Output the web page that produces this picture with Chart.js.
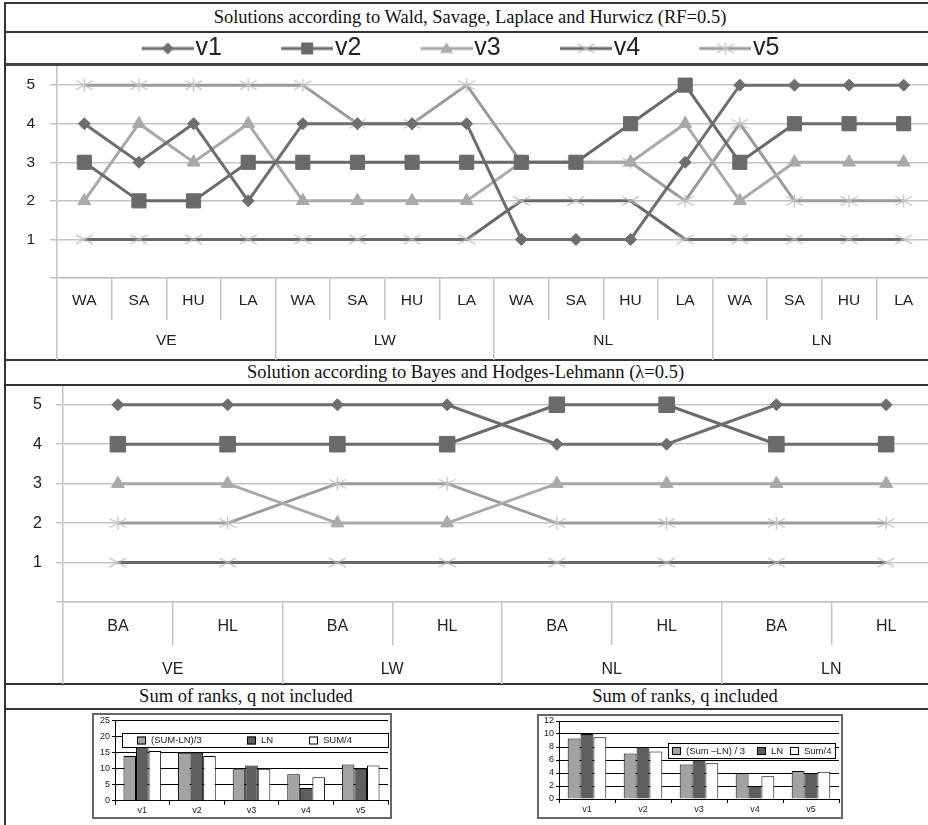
<!DOCTYPE html>
<html>
<head>
<meta charset="utf-8">
<script src="https://cdn.jsdelivr.net/npm/chart.js@4.4.0/dist/chart.umd.min.js"></script>
<style>
  body { margin: 0; width: 928px; height: 825px; overflow: hidden; position: relative; background: #fff; }
  .hl { position: absolute; left: 4px; width: 930px; height: 2px; background: #333; }
  .vl { position: absolute; top: 2px; width: 2px; height: 830px; background: #333; }
  .ttl { position: absolute; text-align: center; font: 18.5px 'Liberation Serif', 'Times New Roman', serif; color: #111; white-space: nowrap; }
  canvas { position: absolute; }
  .box { position: absolute; border: 2px solid #666; box-sizing: border-box; }
</style>
</head>
<body>
<!-- table frame -->
<div class="hl" style="top:2px"></div>
<div class="hl" style="top:31px"></div>
<div class="hl" style="top:63px;height:3px;background:#444"></div>
<div class="hl" style="top:359px"></div>
<div class="hl" style="top:384px"></div>
<div class="hl" style="top:683px"></div>
<div class="hl" style="top:708px"></div>
<div class="vl" style="left:4px"></div>

<div class="ttl" style="left:5px;width:930px;top:4px;line-height:27px">Solutions according to Wald, Savage, Laplace and Hurwicz (RF=0.5)</div>
<div class="ttl" style="left:5px;width:921px;top:361px;line-height:23px">Solution according to Bayes and Hodges-Lehmann (&lambda;=0.5)</div>
<div class="ttl" style="left:96px;width:300px;top:685px;line-height:23px">Sum of ranks, q not included</div>
<div class="ttl" style="left:535px;width:300px;top:685px;line-height:23px">Sum of ranks, q included</div>

<canvas id="top" width="1014" height="332" style="left:-72px;top:28px"></canvas>
<canvas id="bot" width="947" height="309" style="left:6px;top:375px"></canvas>

<div class="box" style="left:92px;top:713px;width:300px;height:106px"></div>
<div class="box" style="left:537px;top:714px;width:306px;height:105px"></div>
<canvas id="barA" width="300" height="110" style="left:92px;top:712px"></canvas>
<canvas id="barB" width="305" height="110" style="left:537px;top:712px"></canvas>

<script>
// 데이터 ///////////////////////////////////////////////
const groups = ['VE', 'LW', 'NL', 'LN'];
const topMethods = ['WA', 'SA', 'HU', 'LA'];
const botMethods = ['BA', 'HL'];
const seriesNames = ['v1', 'v2', 'v3', 'v4', 'v5'];

// Wald, Savage, Hurwicz, Laplace
const top_v1 = [4, 3, 4, 2, 4, 4, 4, 4, 1, 1, 1, 3, 5, 5, 5, 5];
const top_v2 = [3, 2, 2, 3, 3, 3, 3, 3, 3, 3, 4, 5, 3, 4, 4, 4];
const top_v3 = [2, 4, 3, 4, 2, 2, 2, 2, 3, 3, 3, 4, 2, 3, 3, 3];
const top_v4 = [1, 1, 1, 1, 1, 1, 1, 1, 2, 2, 2, 1, 1, 1, 1, 1];
const top_v5 = [5, 5, 5, 5, 5, 4, 4, 5, 3, 3, 3, 2, 4, 2, 2, 2];

// Bayes, Hodges-Lehmann
const bot_v1 = [5, 5, 5, 5, 4, 4, 5, 5];
const bot_v2 = [4, 4, 4, 4, 5, 5, 4, 4];
const bot_v3 = [3, 3, 2, 2, 3, 3, 3, 3];
const bot_v4 = [1, 1, 1, 1, 1, 1, 1, 1];
const bot_v5 = [2, 2, 3, 3, 2, 2, 2, 2];

// 순위 합계 막대
const barCats = ['v1', 'v2', 'v3', 'v4', 'v5'];
const noQ_labels = ['(SUM-LN)/3', 'LN', 'SUM/4'];
const noQ_avg = [14, 15, 9.8, 8.3, 11.3];
const noQ_ln = [20, 15, 11, 4, 10];
const noQ_sum4 = [15.5, 14, 10, 7.3, 11];
const withQ_labels = ['(Sum \u2013LN) / 3', 'LN', 'Sum/4'];
const withQ_avg = [9.3, 7, 5.3, 4, 4.3];
const withQ_ln = [10, 8, 6, 2, 4];
const withQ_sum4 = [9.5, 7.3, 5.5, 3.5, 4.2];

Chart.defaults.font.family = "'Liberation Sans', Arial, sans-serif";
Chart.defaults.color = '#222';

// 마커 스타일 ///////////////////////////////////////////
const gridGray = '#c4c4c4';
const styles = [
  { line: '#6e6e6e', mark: 'diamond', fill: '#6e6e6e' },
  { line: '#6a6a6a', mark: 'square', fill: '#6a6a6a' },
  { line: '#a9a9a9', mark: 'triangle', fill: '#a9a9a9' },
  { line: '#686868', mark: 'x', fill: '#b9b9b9' },
  { line: '#9b9b9b', mark: 'star', fill: '#c2c2c2' }
];

// 납작한 X / 별표 마커 이미지
function crossImg(star, color) {
  const c = document.createElement('canvas');
  c.width = 19; c.height = 14;
  const g = c.getContext('2d');
  g.strokeStyle = color; g.lineWidth = 1.4;
  g.beginPath();
  g.moveTo(1, 2.5); g.lineTo(18, 11.5);
  g.moveTo(1, 11.5); g.lineTo(18, 2.5);
  if (star) { g.moveTo(9.5, 0.5); g.lineTo(9.5, 13.5); }
  g.stroke();
  return c;
}
const xImg = crossImg(false, styles[3].fill);
const starImg = crossImg(true, styles[4].fill);

function drawMark(g, s, x, y) {
  g.fillStyle = s.fill;
  g.beginPath();
  if (s.mark === 'diamond') {
    g.moveTo(x, y - 6); g.lineTo(x + 6, y); g.lineTo(x, y + 6); g.lineTo(x - 6, y);
    g.closePath(); g.fill();
  } else if (s.mark === 'square') {
    g.fillRect(x - 6, y - 6, 12, 12);
  } else if (s.mark === 'triangle') {
    g.moveTo(x, y - 6); g.lineTo(x + 6.5, y + 4.5); g.lineTo(x - 6.5, y + 4.5);
    g.closePath(); g.fill();
  } else {
    const im = s.mark === 'x' ? xImg : starImg;
    g.drawImage(im, x - im.width / 2, y - im.height / 2);
  }
}

// 범례용 (선 + 마커) 이미지
const legendImgs = styles.map(s => {
  const c = document.createElement('canvas');
  c.width = 114; c.height = 22;
  const g = c.getContext('2d');
  g.strokeStyle = s.line; g.lineWidth = 3;
  g.beginPath(); g.moveTo(62, 11); g.lineTo(114, 11); g.stroke();
  drawMark(g, s, 88, 11);
  return c;
});

function pointOpts(i, sq) {
  const m = styles[i].mark;
  if (m === 'diamond') return { pointStyle: 'rectRot', pointRadius: 6 };
  if (m === 'square') return { pointStyle: 'rect', pointRadius: sq };
  if (m === 'triangle') return { pointStyle: 'triangle', pointRadius: 7.5 };
  return { pointStyle: m === 'x' ? xImg : starImg, pointRadius: 8 };
}

function makeDatasets(list, sq) {
  return list.map((vals, i) => Object.assign({
    label: seriesNames[i],
    data: vals,
    borderColor: styles[i].line,
    backgroundColor: styles[i].fill,
    pointBackgroundColor: styles[i].fill,
    pointBorderColor: styles[i].fill,
    pointBorderWidth: 1,
    borderWidth: 3,
    tension: 0,
    clip: false
  }, pointOpts(i, sq)));
}

// 라인 차트 (2단 카테고리 축) /////////////////////////////
function lineChart(id, methods, list, cfg) {
  const cats = groups.flatMap(() => methods);
  return new Chart(document.getElementById(id), {
    type: 'line',
    data: { labels: cats, datasets: makeDatasets(list, cfg.sq) },
    options: {
      responsive: false,
      animation: false,
      devicePixelRatio: 1,
      layout: { padding: { top: cfg.padTop, left: 0, right: 0, bottom: 0 } },
      plugins: {
        tooltip: { enabled: false },
        legend: {
          display: cfg.legend,
          maxHeight: 39,
          labels: {
            usePointStyle: true,
            pointStyleWidth: 92.5,
            padding: 8,
            color: '#222',
            font: { size: 25, family: "'Liberation Sans Narrow', 'Liberation Sans', Arial, sans-serif" },
            generateLabels(chart) {
              const items = Chart.defaults.plugins.legend.labels.generateLabels(chart);
              items.forEach((it, i) => { it.pointStyle = legendImgs[i]; });
              return items;
            }
          }
        }
      },
      scales: {
        x: {
          type: 'category',
          offset: true,
          weight: 0,
          grid: { offset: true, drawOnChartArea: false, tickLength: cfg.innerH, color: gridGray, lineWidth: 1.5 },
          border: { display: true, color: gridGray, width: 1.5 },
          ticks: { padding: cfg.innerPad, autoSkip: false, maxRotation: 0, color: '#222', font: { size: cfg.font } },
          afterFit(s) { s.height = cfg.innerH; s.paddingLeft = 0; s.paddingRight = 0; }
        },
        x2: {
          type: 'category',
          labels: groups,
          position: 'bottom',
          offset: true,
          weight: 1,
          grid: { offset: true, drawOnChartArea: false, tickLength: cfg.groupH, color: gridGray, lineWidth: 1.5 },
          border: { display: false },
          ticks: { padding: cfg.groupPad, autoSkip: false, maxRotation: 0, color: '#222', font: { size: cfg.font } },
          afterFit(s) { s.height = cfg.groupH; s.paddingLeft = 0; s.paddingRight = 0; }
        },
        y: {
          min: 0,
          max: cfg.yMax,
          grid: { color: gridGray, lineWidth: 1.5, tickLength: 7 },
          border: { color: gridGray, width: 1.5 },
          ticks: {
            stepSize: 1,
            includeBounds: false,
            autoSkip: false,
            padding: cfg.yPad,
            color: '#222',
            font: { size: cfg.font },
            callback: v => (v === 0 ? '' : v)
          },
          afterBuildTicks(s) { s.ticks = s.ticks.filter(t => Number.isInteger(t.value)); },
          afterFit(s) { s.width = cfg.yW; s.paddingTop = 0; s.paddingBottom = 0; }
        }
      }
    }
  });
}

lineChart('top', topMethods, [top_v1, top_v2, top_v3, top_v4, top_v5], {
  legend: true, padTop: 0, yMax: 5.47, yW: 129, yPad: 15, font: 15.5, sq: 10,
  innerH: 42, innerPad: -29, groupH: 40, groupPad: -29
});

lineChart('bot', botMethods, [bot_v1, bot_v2, bot_v3, bot_v4, bot_v5], {
  legend: false, padTop: 1, yMax: 5.45, yW: 57, yPad: 14, font: 16, sq: 11,
  innerH: 43, innerPad: -28, groupH: 39, groupPad: -24
});

// 막대 차트 안쪽 범례 (막대 위에 덮어 그림)
const boxLegend = {
  id: 'boxLegend',
  afterDatasetsDraw(chart, args, o) {
    const ctx = chart.ctx;
    ctx.save();
    ctx.fillStyle = '#fff';
    ctx.fillRect(o.x, o.y, o.w, o.h);
    ctx.strokeStyle = '#000';
    ctx.lineWidth = 1;
    ctx.strokeRect(o.x + 0.5, o.y + 0.5, o.w, o.h);
    const mid = o.y + o.h / 2 + 0.5;
    ctx.font = "9.5px 'Liberation Sans', Arial, sans-serif";
    ctx.textBaseline = 'middle';
    chart.data.datasets.forEach((d, i) => {
      const sx = o.items[i];
      ctx.fillStyle = d.backgroundColor;
      ctx.fillRect(sx, mid - 4, 9, 8);
      ctx.strokeRect(sx + 0.5, mid - 3.5, 8, 7);
      ctx.fillStyle = '#222';
      ctx.fillText(d.label, sx + 14, mid);
    });
    ctx.restore();
  }
};

function barChart(id, names, a, ln, q, cfg) {
  return new Chart(document.getElementById(id), {
    type: 'bar',
    data: {
      labels: barCats,
      datasets: [
        { label: names[0], data: a, backgroundColor: '#a3a3a3', borderColor: '#000', borderWidth: 1 },
        { label: names[1], data: ln, backgroundColor: '#5e5e5e', borderColor: '#000', borderWidth: 1 },
        { label: names[2], data: q, backgroundColor: '#ffffff', borderColor: '#000', borderWidth: 1 }
      ]
    },
    plugins: [boxLegend],
    options: {
      responsive: false,
      animation: false,
      devicePixelRatio: 1,
      categoryPercentage: 0.69,
      barPercentage: 1,
      layout: { padding: { top: cfg.padTop, right: cfg.padRight, left: 0, bottom: 0 } },
      plugins: {
        legend: { display: false },
        tooltip: { enabled: false },
        boxLegend: cfg.legend
      },
      scales: {
        x: {
          grid: { offset: true, drawOnChartArea: false, tickLength: 4, color: '#000' },
          border: { color: '#000' },
          ticks: { padding: cfg.xPad, color: '#222', font: { size: 9 } },
          afterFit(s) { s.height = cfg.xH; s.paddingLeft = 0; s.paddingRight = 0; }
        },
        y: {
          min: 0,
          max: cfg.yMax,
          grid: { color: '#000', tickLength: 3 },
          border: { color: '#000' },
          ticks: { stepSize: cfg.step, autoSkip: false, padding: 2, color: '#222', font: { size: 9 } },
          afterFit(s) { s.width = cfg.yW; s.paddingTop = 0; s.paddingBottom = 0; }
        }
      }
    }
  });
}

barChart('barA', noQ_labels, noQ_avg, noQ_ln, noQ_sum4, {
  padTop: 8.7, padRight: 4, xH: 21.3, xPad: 0, yMax: 25, step: 5, yW: 23,
  legend: { x: 30, y: 21, w: 266, h: 14, items: [45, 155, 217] }
});

barChart('barB', withQ_labels, withQ_avg, withQ_ln, withQ_sum4, {
  padTop: 9, padRight: 3, xH: 23, xPad: 1.5, yMax: 12, step: 2, yW: 22,
  legend: { x: 131, y: 31, w: 167, h: 15, items: [135, 220, 253] }
});
</script>
</body>
</html>
